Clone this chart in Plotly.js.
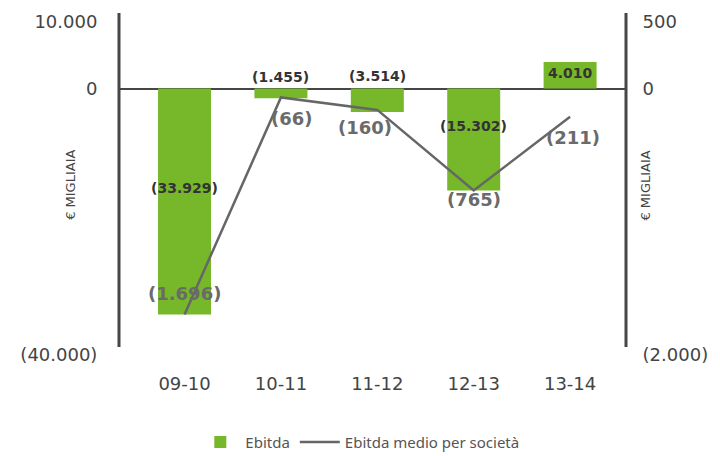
<!DOCTYPE html>
<html>
<head>
<meta charset="utf-8">
<script src="https://cdn.plot.ly/plotly-3.0.1.min.js"></script>
<style>html,body{margin:0;padding:0;background:#fff}#chart{width:720px;height:456px}</style>
</head>
<body>
<div id="chart"></div>
<script>
// ---- data ----
const categories = ['09-10', '10-11', '11-12', '12-13', '13-14'];
const ebitda = [-33929, -1455, -3514, -15302, 4010];
const ebitdaMedio = [-1696, -66, -160, -765, -211];
const leftTickVals = [-40000, 0, 10000];
const leftTickText = ['(40.000)', '0', '10.000'];
const rightTickVals = [-2000, 0, 500];
const rightTickText = ['(2.000)', '0', '500'];
const seriesNames = ['Ebitda', 'Ebitda medio per società'];
const axisTitle = '€ MIGLIAIA';

// ---- label placement (pixel offsets, styling only) ----
const barLabelShift = [127, 21, 36, 65, -11];
const barLabelXShift = [0, 0, 0, 0, 0];
const lineLabelShift = [21, -21, -18, -9, -21];
const lineLabelXShift = [0, 11, -12, 0, 3];

function fmt(v) {
  const s = Math.abs(v).toString().replace(/\B(?=(\d{3})+(?!\d))/g, '.');
  return v < 0 ? '(' + s + ')' : s;
}

const GREEN = '#77b72a';
const DARK = '#464646';
const TICKFONT = {family: 'DejaVu Sans', size: 18, color: '#444'};

const traces = [
  {type: 'bar', x: categories, y: ebitda, name: seriesNames[0],
   marker: {color: GREEN}, width: 0.55, yaxis: 'y'},
  {type: 'scatter', mode: 'lines', x: categories, y: ebitdaMedio, name: seriesNames[1],
   line: {color: '#666666', width: 2.5}, yaxis: 'y2'}
];

const annotations = [];
categories.forEach((c, i) => {
  annotations.push({x: c, y: ebitda[i], xref: 'x', yref: 'y', text: fmt(ebitda[i]),
    showarrow: false, yshift: barLabelShift[i], xshift: barLabelXShift[i],
    font: {family: 'DejaVu Sans', size: 14, color: '#333', weight: 'bold'}});
  annotations.push({x: c, y: ebitdaMedio[i], xref: 'x', yref: 'y2', text: fmt(ebitdaMedio[i]),
    showarrow: false, yshift: lineLabelShift[i], xshift: lineLabelXShift[i],
    font: {family: 'DejaVu Sans', size: 18, color: '#6a6a6a', weight: 'bold'}});
});
annotations.push({xref: 'paper', yref: 'paper', x: -0.116, y: 0.51, text: axisTitle,
  textangle: -90, showarrow: false, font: {family: 'DejaVu Sans', size: 13, color: '#444'}});
annotations.push({xref: 'paper', yref: 'paper', x: 1.057, y: 0.51, text: axisTitle,
  textangle: -90, showarrow: false, font: {family: 'DejaVu Sans', size: 13, color: '#444'}});

const layout = {
  width: 720, height: 456,
  margin: {l: 119, r: 94, t: 22, b: 101, autoexpand: false},
  paper_bgcolor: '#fff', plot_bgcolor: '#fff',
  showlegend: true,
  legend: {orientation: 'h', x: 0.475, xanchor: 'center', y: -0.262, yanchor: 'middle',
    font: {family: 'Noto Sans', size: 15, color: '#555'}, traceorder: 'normal', itemwidth: 40},
  xaxis: {type: 'category', range: [-0.68, 4.58], showgrid: false, showline: false, zeroline: false,
    ticks: 'outside', ticklen: 12, tickcolor: 'rgba(0,0,0,0)', tickfont: TICKFONT},
  yaxis: {range: [-40000, 10000], tickvals: leftTickVals, ticktext: leftTickText,
    showgrid: false, showline: false, zeroline: true, zerolinecolor: DARK, zerolinewidth: 2,
    ticks: 'outside', ticklen: 17, tickcolor: 'rgba(0,0,0,0)', tickfont: TICKFONT},
  yaxis2: {range: [-2000, 500], tickvals: rightTickVals, ticktext: rightTickText,
    overlaying: 'y', side: 'right', showgrid: false, showline: false, zeroline: false,
    ticks: 'outside', ticklen: 12, tickcolor: 'rgba(0,0,0,0)', tickfont: TICKFONT},
  shapes: [
    {type: 'line', xref: 'paper', yref: 'paper', x0: 0, x1: 0, y0: 0.024, y1: 1.027,
      line: {color: DARK, width: 3}},
    {type: 'line', xref: 'paper', yref: 'paper', x0: 1, x1: 1, y0: 0.024, y1: 1.027,
      line: {color: DARK, width: 3}}
  ],
  annotations: annotations,
  hovermode: false
};

Plotly.newPlot('chart', traces, layout, {staticPlot: true, displayModeBar: false});
</script>
</body>
</html>
